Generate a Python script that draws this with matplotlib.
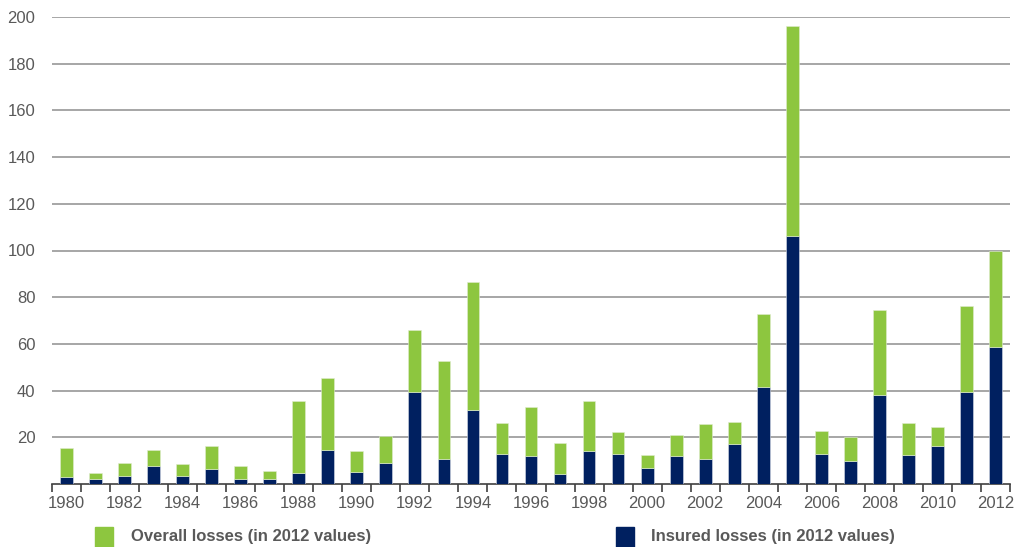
import numpy as np
import matplotlib.pyplot as plt
from matplotlib.patches import Rectangle

plt.rcParams['font.family'] = ['Liberation Sans', 'DejaVu Sans']

years = list(range(1980, 2013))
overall = [15.3, 4.6, 9.0, 14.4, 8.6, 16.4, 7.6, 5.4, 35.5, 45.3,
           14.3, 20.7, 66.0, 52.7, 86.4, 26.3, 33.1, 17.4, 35.5, 22.3,
           12.4, 20.8, 25.9, 26.6, 72.9, 196.3, 22.7, 20.3, 74.4, 26.2,
           24.4, 76.4, 99.9]
insured = [3.1, 2.1, 3.6, 7.6, 3.6, 6.4, 2.1, 2.1, 4.6, 14.4,
           5.0, 8.9, 39.3, 10.6, 31.7, 12.8, 12.0, 4.4, 14.3, 12.8,
           7.0, 12.0, 10.9, 17.0, 41.6, 106.4, 12.9, 9.7, 38.1, 12.6,
           16.1, 39.5, 58.7]
uninsured = [o - i for o, i in zip(overall, insured)]

green = '#8DC63F'
navy = '#002060'
textcol = '#595959'

W, H = 1017, 547
fig = plt.figure(figsize=(W / 100, H / 100), dpi=100)
ax = fig.add_axes([52 / W, (H - 484) / H, (1010 - 52) / W, (484 - 17) / H])

x = np.arange(len(years))
ax.bar(x, insured, width=0.44, color=navy, edgecolor='#d8dde8', linewidth=0.4, zorder=3)
ax.bar(x, uninsured, width=0.44, bottom=insured, color=green, edgecolor='#e0ecd0', linewidth=0.4, zorder=3)

ax.set_xlim(-0.5, len(years) - 0.5)
ax.set_ylim(0, 200)

ax.set_yticks(range(20, 201, 20))
ax.yaxis.grid(True, color='#a6a6a6', linewidth=1.4)
ax.set_axisbelow(True)
ax.tick_params(axis='y', length=0, pad=12, labelsize=12, labelcolor=textcol)

ax.set_xticks(x[::2])
ax.set_xticklabels([str(y) for y in years[::2]])
ax.set_xticks(np.arange(-0.5, len(years)), minor=True)
ax.tick_params(axis='x', which='major', length=0, pad=9, labelsize=12, labelcolor=textcol)
ax.tick_params(axis='x', which='minor', length=6, width=1.2, color='#404040', direction='out')

for s in ['top', 'right', 'left']:
    ax.spines[s].set_visible(False)
ax.spines['bottom'].set_color('#404040')
ax.spines['bottom'].set_linewidth(1.2)

# legend
fig.add_artist(Rectangle((95 / W, 0), 18 / W, 20 / H, transform=fig.transFigure, color=green))
fig.text(131 / W, 10 / H, 'Overall losses (in 2012 values)', fontsize=12,
         fontweight='bold', color=textcol, va='center')
fig.add_artist(Rectangle((616 / W, 0), 18 / W, 20 / H, transform=fig.transFigure, color=navy))
fig.text(651 / W, 10 / H, 'Insured losses (in 2012 values)', fontsize=12,
         fontweight='bold', color=textcol, va='center')

fig.savefig('out.png', dpi=100)
